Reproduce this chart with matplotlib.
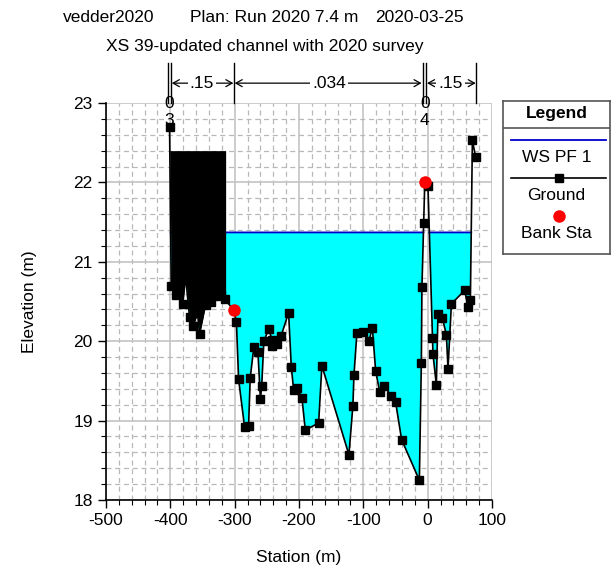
import numpy as np
import matplotlib
matplotlib.use("Agg")
import matplotlib.pyplot as plt
from matplotlib.ticker import MultipleLocator
from matplotlib.transforms import blended_transform_factory

plt.rcParams['font.family'] = ['Liberation Sans', 'DejaVu Sans']
plt.rcParams['axes.unicode_minus'] = False

# Cross-section ground survey (station m, elevation m)
station = [-401.2, -398.6, -390.8, -380.6, -376.4, -370.1, -365.0, -357.7, -354.6,
           -345.3, -336.4, -329.7, -320.8, -315.7, -301.0, -297.3, -293.9, -284.6,
           -278.4, -275.8, -270.1, -263.9, -260.0, -258.0, -254.6, -247.3, -241.8,
           -241.2, -233.8, -227.6, -216.2, -212.0, -208.4, -203.3, -195.5, -190.2,
           -169.5, -164.4, -122.4, -116.2, -114.6, -110.0, -100.6, -91.3, -86.0,
           -80.9, -74.6, -68.0, -56.5, -49.8, -40.5, -12.9, -9.8, -8.9, -6.2,
           -4.5, 0.5, 7.5, 8.2, 13.5, 16.0, 22.9, 29.1, 31.6, 36.9, 57.5, 62.7,
           66.4, 69.5, 74.6]
elevation = [22.70, 20.69, 20.58, 20.47, 20.82, 20.30, 20.19, 20.35, 20.09,
             20.46, 20.50, 20.57, 20.58, 20.53, 20.39, 20.24, 19.52, 18.92,
             18.93, 19.54, 19.93, 19.87, 19.27, 19.43, 20.00, 20.15, 20.02,
             19.94, 19.97, 20.07, 20.36, 19.68, 19.39, 19.41, 19.29, 18.88,
             18.97, 19.69, 18.57, 19.19, 19.57, 20.10, 20.11, 20.00, 20.17,
             19.63, 19.36, 19.44, 19.31, 19.23, 18.76, 18.25, 19.73, 20.68, 21.49,
             22.01, 21.95, 20.04, 19.84, 19.45, 20.34, 20.29, 20.08, 19.65, 20.47,
             20.64, 20.43, 20.52, 22.53, 22.32]

bank_station = [-301.0, -4.5]
bank_elev = [20.39, 22.01]

ws_elev = 21.37                 # WS PF 1
obstr_left, obstr_right, obstr_top = -401.2, -314.0, 22.4

n_bounds = [-401.2, -301.0, -4.5, 75.7]
n_values = ['.15', '.034', '.15']
point_labels = [(-401.2, '0\n3'), (-4.5, '0\n4')]

W, H = 613, 569
fig = plt.figure(figsize=(W / 100, H / 100), dpi=100)
ax = fig.add_axes([106 / W, 1 - 500 / H, 386 / W, 397 / H])

sta = np.array(station)
elv = np.array(elevation)
xs = np.linspace(sta.min(), sta.max(), 6000)
gs = np.interp(xs, sta, elv)

# water
ax.fill_between(xs, gs, ws_elev, where=gs < ws_elev, interpolate=True,
                color='#00FFFF', lw=0, zorder=2)
ws_line = np.where(gs < ws_elev, ws_elev, np.nan)
ax.plot(xs, ws_line, color='#0000CC', lw=1.3, zorder=3)

# blocked obstruction
mask = (xs >= obstr_left) & (xs <= obstr_right)
ax.fill_between(xs[mask], np.minimum(gs[mask], obstr_top), obstr_top,
                color='black', lw=0, zorder=4)

# ground and banks
ax.plot(sta, elv, color='black', lw=1.2, marker='s', ms=5.5, zorder=5)
ax.plot(bank_station, bank_elev, 'o', color='#FF0000', ms=9, zorder=6,
        markeredgewidth=0)

ax.set_xlim(-500, 100)
ax.set_ylim(18, 23)
ax.xaxis.set_major_locator(MultipleLocator(100))
ax.xaxis.set_minor_locator(MultipleLocator(20))
ax.yaxis.set_major_locator(MultipleLocator(1))
ax.yaxis.set_minor_locator(MultipleLocator(0.2))
ax.grid(which='major', color='#c4c4c4', lw=1.2, ls='-', zorder=0)
ax.grid(which='minor', color='#b8b8b8', lw=0.9, ls=(0, (4, 3)), zorder=0)
ax.set_axisbelow(True)
ax.tick_params(which='major', direction='out', length=6, width=1,
               labelsize=12.5, colors='black')
ax.tick_params(which='minor', direction='out', length=3.5, width=0.8)
for s in ('top', 'right'):
    ax.spines[s].set_visible(False)
ax.spines['left'].set_linewidth(1.2)
ax.spines['bottom'].set_linewidth(1.2)
ax.set_xlabel('Station (m)', fontsize=12.5, labelpad=16)
ax.set_ylabel('Elevation (m)', fontsize=12.5, labelpad=26)

# point labels
for x, t in point_labels:
    ax.text(x, 22.885, t, ha='center', va='center', fontsize=12.5,
            linespacing=1.15, zorder=7, clip_on=False)

# Manning's n regions above the plot
tr = blended_transform_factory(ax.transData, ax.transAxes)
y_top, y_arrow = 1.10, 1.05
for i, b in enumerate(n_bounds):
    if i in (0, 2):
        for dx in (-3.0, 2.6):
            ax.plot([b + dx, b + dx], [1.0, y_top], color='black', lw=1,
                    transform=tr, clip_on=False)
    else:
        ax.plot([b, b], [1.0, y_top], color='black', lw=1, transform=tr,
                clip_on=False)
for i, n in enumerate(n_values):
    a, b = n_bounds[i], n_bounds[i + 1]
    a_in = a + (3.5 if i in (0, 2) else 1.0)
    b_in = b - (5.0 if i + 1 == 2 else 1.0)
    ax.annotate('', xy=(a_in, y_arrow), xycoords=tr,
                xytext=(b_in, y_arrow), textcoords=tr,
                arrowprops=dict(arrowstyle='<->,head_length=0.45,head_width=0.25',
                                color='black', lw=0.9, shrinkA=0, shrinkB=0),
                annotation_clip=False)
    ax.text((a + b) / 2, y_arrow, n, transform=tr, ha='center', va='center',
            fontsize=12.5, clip_on=False,
            bbox=dict(facecolor='white', edgecolor='none', pad=1.5))

# titles
fig.text(63 / W, 1 - 17 / H, 'vedder2020', fontsize=12.5, ha='left', va='center')
fig.text(190 / W, 1 - 17 / H, 'Plan: Run 2020 7.4 m', fontsize=12.5, ha='left', va='center')
fig.text(375 / W, 1 - 17 / H, '2020-03-25', fontsize=12.5, ha='left', va='center')
fig.text(265 / W, 1 - 47 / H, 'XS 39-updated channel with 2020 survey',
         fontsize=12.5, ha='center', va='center')

# legend panel
lax = fig.add_axes([503 / W, 1 - 254 / H, 107 / W, 153 / H])
lax.set_xlim(0, 107)
lax.set_ylim(153, 0)
lax.set_xticks([])
lax.set_yticks([])
for s in lax.spines.values():
    s.set_color('#555555')
    s.set_linewidth(1.2)
lax.axhline(27, color='#555555', lw=1.2)
lax.text(53.5, 13, 'Legend', ha='center', va='center', fontsize=12.5,
         fontweight='bold')
lax.plot([8, 103], [39, 39], color='#0000CC', lw=1.3)
lax.text(53.5, 57, 'WS PF 1', ha='center', va='center', fontsize=12.5)
lax.plot([8, 103], [77, 77], color='black', lw=1.2)
lax.plot([55.5], [77], 's', color='black', ms=5.5)
lax.text(53.5, 95, 'Ground', ha='center', va='center', fontsize=12.5)
lax.plot([55.5], [115], 'o', color='#FF0000', ms=9, markeredgewidth=0)
lax.text(53.5, 133, 'Bank Sta', ha='center', va='center', fontsize=12.5)

fig.savefig('out.png', dpi=100)
